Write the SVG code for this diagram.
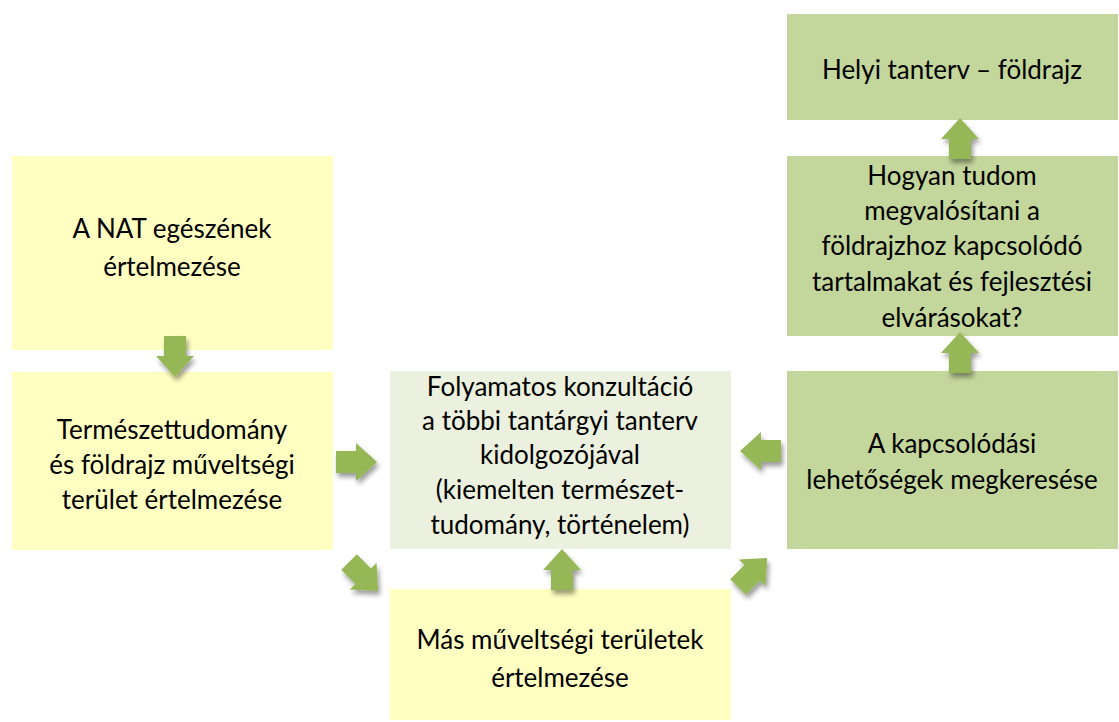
<svg xmlns="http://www.w3.org/2000/svg" width="1119" height="722" viewBox="0 0 1119 722">
<style>
.y{fill:#FFFFC1}
.g{fill:#C3D69B}
.c{fill:#EBF1DE}
text{font-family:Lato,"Open Sans","Liberation Sans",sans-serif;font-size:26px;fill:#000;text-anchor:middle}
.a{fill:#95B757}
</style>
<defs>
<filter id="sh" x="-50%" y="-50%" width="200%" height="200%">
<feGaussianBlur in="SourceAlpha" stdDeviation="2.5"/>
<feOffset dx="2" dy="4" result="b"/>
<feComponentTransfer><feFuncA type="linear" slope="0.4"/></feComponentTransfer>
<feMerge><feMergeNode/><feMergeNode in="SourceGraphic"/></feMerge>
</filter>
<path id="up" d="M-11,24 L-11,4 L-19,4 L0,-17 L19,4 L11,4 L11,24 Z"/>
</defs>
<g id="n1"><rect class="y" x="12" y="156" width="321" height="194"/>
<text x="172" y="238">A NAT egészének</text><text x="172" y="276">értelmezése</text></g>
<g id="n2"><rect class="y" x="12" y="372" width="321" height="178"/>
<text x="172" y="439">Természettudomány</text><text x="172" y="474">és földrajz műveltségi</text><text x="172" y="509">terület értelmezése</text></g>
<g id="n3"><rect class="c" x="390" y="371" width="341" height="178"/>
<text x="560" y="396">Folyamatos konzultáció</text><text x="560" y="430">a többi tantárgyi tanterv</text><text x="560" y="464">kidolgozójával</text><text x="560" y="499">(kiemelten természet-</text><text x="560" y="534">tudomány, történelem)</text></g>
<g id="n4"><rect class="y" x="390" y="589" width="341" height="131"/>
<text x="560" y="649">Más műveltségi területek</text><text x="560" y="687">értelmezése</text></g>
<g id="n5"><rect class="g" x="787" y="371" width="331" height="178"/>
<text x="952" y="453">A kapcsolódási</text><text x="952" y="489">lehetőségek megkeresése</text></g>
<g id="n6"><rect class="g" x="787" y="156" width="331" height="180"/>
<text x="952" y="185">Hogyan tudom</text><text x="952" y="220">megvalósítani a</text><text x="952" y="255">földrajzhoz kapcsolódó</text><text x="952" y="291">tartalmakat és fejlesztési</text><text x="952" y="327">elvárásokat?</text></g>
<g id="n7"><rect class="g" x="787" y="14" width="331" height="106"/>
<text x="952" y="79">Helyi tanterv – földrajz</text></g>
<g id="connectors" filter="url(#sh)">
<use href="#up" class="a" transform="translate(175,360) rotate(180)"/>
<use href="#up" class="a" transform="translate(360,462) rotate(90)"/>
<use href="#up" class="a" transform="translate(366,579) rotate(135)"/>
<use href="#up" class="a" transform="translate(562,566)"/>
<use href="#up" class="a" transform="translate(757,451) rotate(-90)"/>
<use href="#up" class="a" transform="translate(755,570) rotate(45)"/>
<use href="#up" class="a" transform="translate(960,135)"/>
<use href="#up" class="a" transform="translate(960,349)"/>
</g>
</svg>
